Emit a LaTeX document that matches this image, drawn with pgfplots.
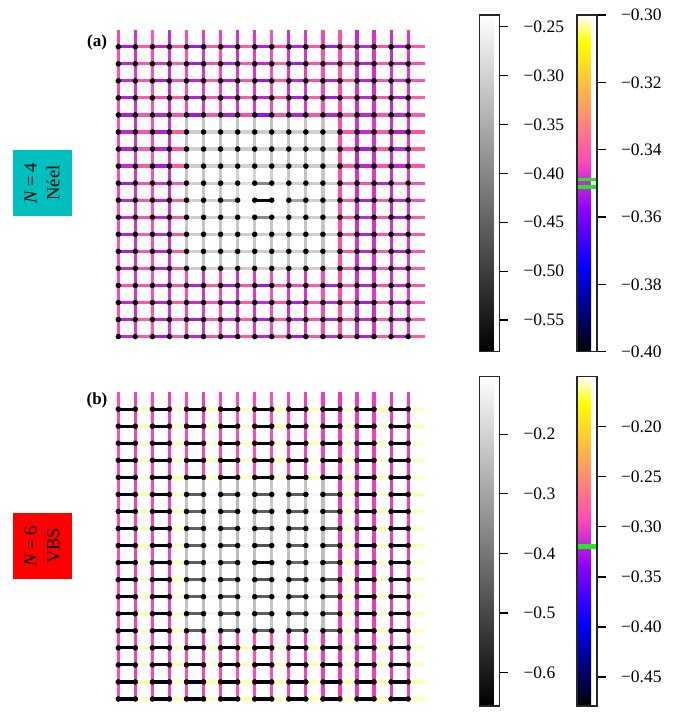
\documentclass[border=0pt]{standalone}
\usepackage{pgfplots}
\pgfplotsset{compat=1.18}
\usepackage{pgfplotstable}
\usepackage{fontspec}
\setmainfont{Liberation Serif}

\definecolor{neelbox}{RGB}{0,191,191}
\definecolor{vbsbox}{RGB}{255,0,0}
\definecolor{meanline}{RGB}{30,235,30}

\pgfplotsset{
  colormap={gnuplottwo}{rgb(0pt)=(0,0,0); rgb(250pt)=(0,0,1); rgb(420pt)=(0.53125,0,1);
    rgb(570pt)=(1,0.3,0.7); rgb(920pt)=(1,1,0); rgb(1000pt)=(1,1,1)},
  colormap={greys}{gray(0pt)=(0); gray(1pt)=(1)},
  lattice/.style={hide axis, scale only axis, enlargelimits=false, clip=false,
    xmin=-1, xmax=19, ymin=-1, ymax=19, width=341pt, height=341pt, anchor=south west},
  hbond/.style={quiver={u=1, v=0, colored=mapped color}, point meta=\thisrow{h},
    line width=3.2pt, mark=none},
  vbond/.style={quiver={u=0, v=1, colored=mapped color}, point meta=\thisrow{v},
    line width=3.2pt, mark=none},
  sites/.style={only marks, mark=*, mark size=2.5pt, mark options={draw=black, fill=black}},
  cbar/.style={at={(parent axis.north west)}, anchor=north west, scale only axis,
    width=20pt, height=#1, axis line style={line width=1.1pt, black!85},
    ytick pos=right, yticklabel pos=right, tick align=outside, major tick length=8.5pt,
    every tick/.style={black, line width=1.3pt},
    yticklabel style={font=\fontsize{17.5}{17.5}\selectfont, xshift=12pt}},
  cbarhost/.style={hide axis, scale only axis, anchor=north west, width=20pt, xmin=0, xmax=1,
    colorbar shift/.style={xshift=0pt}},
}

% bond energies, N=4 (Neel): i j h(i->i+1) v(j->j+1)
\pgfplotstableread{
i j h v
0 17 -0.353 -0.344
1 17 -0.340 -0.348
2 17 -0.351 -0.341
3 17 -0.342 -0.350
4 17 -0.354 -0.343
5 17 -0.341 -0.346
6 17 -0.350 -0.345
7 17 -0.339 -0.348
8 17 -0.352 -0.347
9 17 -0.343 -0.342
10 17 -0.351 -0.349
11 17 -0.341 -0.347
12 17 -0.353 -0.344
13 17 -0.340 -0.342
14 17 -0.350 -0.350
15 17 -0.342 -0.348
16 17 -0.352 -0.349
17 17 -0.341 -0.347
0 16 -0.351 -0.343
1 16 -0.342 -0.349
2 16 -0.348 -0.343
3 16 -0.340 -0.348
4 16 -0.353 -0.342
5 16 -0.343 -0.347
6 16 -0.351 -0.343
7 16 -0.341 -0.349
8 16 -0.350 -0.346
9 16 -0.340 -0.344
10 16 -0.353 -0.348
11 16 -0.342 -0.348
12 16 -0.349 -0.342
13 16 -0.341 -0.343
14 16 -0.352 -0.348
15 16 -0.340 -0.347
16 16 -0.351 -0.350
17 16 -0.343 -0.348
0 15 -0.350 -0.342
1 15 -0.341 -0.347
2 15 -0.353 -0.342
3 15 -0.343 -0.349
4 15 -0.351 -0.344
5 15 -0.340 -0.348
6 15 -0.352 -0.344
7 15 -0.342 -0.347
8 15 -0.354 -0.348
9 15 -0.341 -0.343
10 15 -0.350 -0.347
11 15 -0.343 -0.346
12 15 -0.352 -0.343
13 15 -0.340 -0.341
14 15 -0.351 -0.349
15 15 -0.341 -0.349
16 15 -0.349 -0.348
17 15 -0.342 -0.347
0 14 -0.352 -0.344
1 14 -0.340 -0.348
2 14 -0.344 -0.341
3 14 -0.341 -0.350
4 14 -0.352 -0.342
5 14 -0.342 -0.346
6 14 -0.350 -0.345
7 14 -0.340 -0.349
8 14 -0.351 -0.347
9 14 -0.342 -0.342
10 14 -0.352 -0.349
11 14 -0.340 -0.348
12 14 -0.353 -0.344
13 14 -0.342 -0.343
14 14 -0.350 -0.348
15 14 -0.341 -0.349
16 14 -0.352 -0.349
17 14 -0.340 -0.348
0 13 -0.353 -0.343
1 13 -0.341 -0.348
2 13 -0.351 -0.342
3 13 -0.342 -0.348
4 13 -0.354 -0.343
5 13 -0.341 -0.347
6 13 -0.352 -0.343
7 13 -0.343 -0.348
8 13 -0.355 -0.347
9 13 -0.341 -0.343
10 13 -0.352 -0.348
11 13 -0.342 -0.347
12 13 -0.351 -0.342
13 13 -0.340 -0.342
14 13 -0.351 -0.349
15 13 -0.342 -0.348
16 13 -0.350 -0.350
17 13 -0.341 -0.348
0 12 -0.351 -0.343
1 12 -0.342 -0.349
2 12 -0.352 -0.342
3 12 -0.341 -0.348
13 12 -0.341 -0.342
14 12 -0.350 -0.348
15 12 -0.340 -0.347
16 12 -0.352 -0.349
17 12 -0.342 -0.348
0 11 -0.352 -0.344
1 11 -0.340 -0.348
2 11 -0.350 -0.343
3 11 -0.342 -0.349
13 11 -0.343 -0.343
14 11 -0.353 -0.349
15 11 -0.341 -0.348
16 11 -0.351 -0.348
17 11 -0.340 -0.347
0 10 -0.350 -0.342
1 10 -0.341 -0.347
2 10 -0.353 -0.341
3 10 -0.340 -0.348
13 10 -0.341 -0.342
14 10 -0.351 -0.350
15 10 -0.342 -0.349
16 10 -0.350 -0.349
17 10 -0.341 -0.348
0 9 -0.353 -0.343
1 9 -0.342 -0.348
2 9 -0.349 -0.342
3 9 -0.341 -0.349
13 9 -0.340 -0.343
14 9 -0.343 -0.348
15 9 -0.351 -0.347
16 9 -0.341 -0.349
17 9 -0.342 -0.347
0 8 -0.351 -0.344
1 8 -0.341 -0.348
2 8 -0.352 -0.343
3 8 -0.340 -0.348
13 8 -0.341 -0.342
14 8 -0.352 -0.349
15 8 -0.340 -0.348
16 8 -0.351 -0.349
17 8 -0.343 -0.348
0 7 -0.350 -0.343
1 7 -0.342 -0.347
2 7 -0.351 -0.342
3 7 -0.341 -0.349
13 7 -0.342 -0.341
14 7 -0.350 -0.348
15 7 -0.341 -0.347
16 7 -0.353 -0.350
17 7 -0.340 -0.348
0 6 -0.352 -0.344
1 6 -0.340 -0.348
2 6 -0.350 -0.342
3 6 -0.342 -0.348
13 6 -0.340 -0.343
14 6 -0.352 -0.349
15 6 -0.342 -0.348
16 6 -0.350 -0.348
17 6 -0.341 -0.347
0 5 -0.353 -0.342
1 5 -0.341 -0.349
2 5 -0.351 -0.343
3 5 -0.340 -0.348
13 5 -0.341 -0.342
14 5 -0.351 -0.348
15 5 -0.340 -0.349
16 5 -0.352 -0.349
17 5 -0.342 -0.348
0 4 -0.350 -0.343
1 4 -0.342 -0.348
2 4 -0.352 -0.342
3 4 -0.341 -0.349
13 4 -0.342 -0.342
14 4 -0.353 -0.349
15 4 -0.341 -0.348
16 4 -0.350 -0.348
17 4 -0.340 -0.347
0 3 -0.343 -0.343
1 3 -0.341 -0.348
2 3 -0.350 -0.342
3 3 -0.342 -0.349
4 3 -0.352 -0.342
5 3 -0.340 -0.347
6 3 -0.353 -0.343
7 3 -0.342 -0.348
8 3 -0.354 -0.346
9 3 -0.341 -0.343
10 3 -0.344 -0.348
11 3 -0.340 -0.347
12 3 -0.352 -0.343
13 3 -0.341 -0.342
14 3 -0.351 -0.349
15 3 -0.342 -0.348
16 3 -0.350 -0.349
17 3 -0.341 -0.348
0 2 -0.351 -0.344
1 2 -0.342 -0.348
2 2 -0.352 -0.343
3 2 -0.340 -0.348
4 2 -0.350 -0.343
5 2 -0.343 -0.348
6 2 -0.351 -0.344
7 2 -0.341 -0.349
8 2 -0.350 -0.347
9 2 -0.342 -0.342
10 2 -0.352 -0.347
11 2 -0.341 -0.348
12 2 -0.350 -0.342
13 2 -0.340 -0.343
14 2 -0.353 -0.348
15 2 -0.341 -0.347
16 2 -0.351 -0.349
17 2 -0.342 -0.347
0 1 -0.352 -0.343
1 1 -0.340 -0.349
2 1 -0.351 -0.341
3 1 -0.342 -0.349
4 1 -0.353 -0.344
5 1 -0.341 -0.346
6 1 -0.349 -0.343
7 1 -0.340 -0.348
8 1 -0.352 -0.348
9 1 -0.343 -0.343
10 1 -0.350 -0.349
11 1 -0.342 -0.346
12 1 -0.352 -0.344
13 1 -0.341 -0.342
14 1 -0.350 -0.349
15 1 -0.340 -0.349
16 1 -0.352 -0.348
17 1 -0.341 -0.348
0 0 -0.350 -0.344
1 0 -0.341 -0.347
2 0 -0.353 -0.342
3 0 -0.341 -0.348
4 0 -0.351 -0.343
5 0 -0.342 -0.348
6 0 -0.352 -0.344
7 0 -0.341 -0.347
8 0 -0.351 -0.347
9 0 -0.340 -0.343
10 0 -0.353 -0.348
11 0 -0.341 -0.347
12 0 -0.350 -0.343
13 0 -0.342 -0.342
14 0 -0.352 -0.349
15 0 -0.341 -0.348
16 0 -0.351 -0.349
17 0 -0.340 -0.347
}\OuterA

\pgfplotstableread{
i j h v
4 12 -0.306 -0.318
5 12 -0.304 -0.320
6 12 -0.308 -0.316
7 12 -0.303 -0.319
8 12 -0.307 -0.317
9 12 -0.305 -0.321
10 12 -0.309 -0.318
11 12 -0.304 -0.316
12 12 -0.306 -0.320
4 11 -0.303 -0.319
5 11 -0.307 -0.317
6 11 -0.302 -0.321
7 11 -0.306 -0.318
8 11 -0.304 -0.316
9 11 -0.308 -0.320
10 11 -0.303 -0.317
11 11 -0.306 -0.319
12 11 -0.305 -0.318
4 10 -0.307 -0.317
5 10 -0.303 -0.320
6 10 -0.306 -0.318
7 10 -0.301 -0.316
8 10 -0.310 -0.315
9 10 -0.302 -0.317
10 10 -0.305 -0.319
11 10 -0.308 -0.318
12 10 -0.304 -0.320
4 9 -0.305 -0.318
5 9 -0.306 -0.319
6 9 -0.300 -0.314
7 9 -0.285 -0.300
8 9 -0.400 -0.300
9 9 -0.285 -0.302
10 9 -0.301 -0.315
11 9 -0.307 -0.318
12 9 -0.304 -0.317
4 8 -0.304 -0.319
5 8 -0.302 -0.316
6 8 -0.360 -0.313
7 8 -0.250 -0.295
8 8 -0.570 -0.255
9 8 -0.250 -0.255
10 8 -0.360 -0.300
11 8 -0.303 -0.314
12 8 -0.306 -0.318
4 7 -0.306 -0.318
5 7 -0.305 -0.317
6 7 -0.301 -0.313
7 7 -0.285 -0.295
8 7 -0.400 -0.255
9 7 -0.285 -0.255
10 7 -0.300 -0.300
11 7 -0.306 -0.316
12 7 -0.303 -0.319
4 6 -0.305 -0.317
5 6 -0.308 -0.320
6 6 -0.303 -0.316
7 6 -0.306 -0.314
8 6 -0.309 -0.312
9 6 -0.302 -0.315
10 6 -0.306 -0.318
11 6 -0.304 -0.319
12 6 -0.307 -0.317
4 5 -0.304 -0.319
5 5 -0.306 -0.317
6 5 -0.308 -0.321
7 5 -0.303 -0.318
8 5 -0.305 -0.316
9 5 -0.307 -0.320
10 5 -0.302 -0.317
11 5 -0.306 -0.318
12 5 -0.304 -0.321
4 4 -0.307 -0.318
5 4 -0.303 -0.320
6 4 -0.305 -0.317
7 4 -0.308 -0.319
8 4 -0.304 -0.318
9 4 -0.306 -0.316
10 4 -0.303 -0.320
11 4 -0.307 -0.317
12 4 -0.305 -0.319
}\InnerA

% bond energies, N=6 (VBS)
\pgfplotstableread{
i j h v
0 17 -0.470 -0.291
1 17 -0.158 -0.299
2 17 -0.468 -0.294
3 17 -0.156 -0.300
4 17 -0.472 -0.292
5 17 -0.160 -0.298
6 17 -0.469 -0.295
7 17 -0.157 -0.292
8 17 -0.471 -0.294
9 17 -0.159 -0.291
10 17 -0.467 -0.296
11 17 -0.158 -0.299
12 17 -0.473 -0.300
13 17 -0.156 -0.302
14 17 -0.470 -0.301
15 17 -0.160 -0.300
16 17 -0.468 -0.302
17 17 -0.157 -0.301
0 16 -0.471 -0.293
1 16 -0.159 -0.298
2 16 -0.469 -0.293
3 16 -0.157 -0.299
4 16 -0.470 -0.294
5 16 -0.158 -0.297
6 16 -0.472 -0.293
7 16 -0.156 -0.290
8 16 -0.468 -0.292
9 16 -0.160 -0.289
10 16 -0.471 -0.294
11 16 -0.157 -0.298
12 16 -0.469 -0.299
13 16 -0.158 -0.301
14 16 -0.473 -0.300
15 16 -0.156 -0.301
16 16 -0.470 -0.300
17 16 -0.159 -0.299
0 15 -0.469 -0.292
1 15 -0.157 -0.297
2 15 -0.471 -0.295
3 15 -0.159 -0.298
4 15 -0.468 -0.293
5 15 -0.156 -0.296
6 15 -0.470 -0.294
7 15 -0.158 -0.291
8 15 -0.472 -0.293
9 15 -0.157 -0.290
10 15 -0.469 -0.295
11 15 -0.160 -0.297
12 15 -0.471 -0.298
13 15 -0.157 -0.300
14 15 -0.468 -0.301
15 15 -0.158 -0.299
16 15 -0.472 -0.301
17 15 -0.156 -0.300
0 14 -0.472 -0.291
1 14 -0.158 -0.298
2 14 -0.470 -0.294
3 14 -0.156 -0.299
4 14 -0.469 -0.291
5 14 -0.159 -0.296
6 14 -0.471 -0.293
7 14 -0.157 -0.289
8 14 -0.470 -0.291
9 14 -0.158 -0.289
10 14 -0.468 -0.294
11 14 -0.156 -0.297
12 14 -0.471 -0.297
13 14 -0.159 -0.301
14 14 -0.470 -0.300
15 14 -0.157 -0.300
16 14 -0.469 -0.301
17 14 -0.158 -0.300
0 13 -0.470 -0.293
1 13 -0.156 -0.298
2 13 -0.468 -0.293
3 13 -0.160 -0.298
4 13 -0.471 -0.291
5 13 -0.157 -0.294
6 13 -0.469 -0.292
7 13 -0.158 -0.288
8 13 -0.472 -0.290
9 13 -0.156 -0.288
10 13 -0.470 -0.292
11 13 -0.159 -0.296
12 13 -0.468 -0.297
13 13 -0.157 -0.300
14 13 -0.471 -0.301
15 13 -0.158 -0.301
16 13 -0.470 -0.300
17 13 -0.156 -0.301
0 12 -0.469 -0.292
1 12 -0.158 -0.298
2 12 -0.471 -0.294
3 12 -0.157 -0.299
13 12 -0.158 -0.302
14 12 -0.470 -0.301
15 12 -0.156 -0.300
16 12 -0.472 -0.302
17 12 -0.159 -0.300
0 11 -0.471 -0.291
1 11 -0.157 -0.299
2 11 -0.469 -0.293
3 11 -0.159 -0.298
13 11 -0.156 -0.303
14 11 -0.468 -0.300
15 11 -0.158 -0.301
16 11 -0.470 -0.301
17 11 -0.157 -0.300
0 10 -0.470 -0.293
1 10 -0.159 -0.297
2 10 -0.472 -0.295
3 10 -0.156 -0.299
13 10 -0.157 -0.302
14 10 -0.471 -0.301
15 10 -0.159 -0.300
16 10 -0.469 -0.302
17 10 -0.156 -0.301
0 9 -0.468 -0.292
1 9 -0.158 -0.298
2 9 -0.470 -0.294
3 9 -0.157 -0.300
13 9 -0.158 -0.301
14 9 -0.469 -0.300
15 9 -0.157 -0.302
16 9 -0.471 -0.300
17 9 -0.158 -0.301
0 8 -0.471 -0.291
1 8 -0.156 -0.299
2 8 -0.469 -0.293
3 8 -0.158 -0.298
13 8 -0.159 -0.303
14 8 -0.470 -0.301
15 8 -0.156 -0.300
16 8 -0.468 -0.301
17 8 -0.157 -0.300
0 7 -0.470 -0.293
1 7 -0.157 -0.298
2 7 -0.471 -0.294
3 7 -0.159 -0.299
13 7 -0.156 -0.302
14 7 -0.472 -0.300
15 7 -0.158 -0.301
16 7 -0.470 -0.302
17 7 -0.159 -0.301
0 6 -0.469 -0.292
1 6 -0.158 -0.297
2 6 -0.470 -0.295
3 6 -0.156 -0.298
13 6 -0.157 -0.301
14 6 -0.469 -0.301
15 6 -0.159 -0.300
16 6 -0.471 -0.301
17 6 -0.156 -0.300
0 5 -0.472 -0.291
1 5 -0.159 -0.299
2 5 -0.468 -0.293
3 5 -0.157 -0.299
13 5 -0.158 -0.302
14 5 -0.470 -0.300
15 5 -0.157 -0.302
16 5 -0.469 -0.300
17 5 -0.158 -0.301
0 4 -0.470 -0.292
1 4 -0.157 -0.298
2 4 -0.471 -0.294
3 4 -0.158 -0.298
13 4 -0.156 -0.301
14 4 -0.471 -0.301
15 4 -0.158 -0.300
16 4 -0.470 -0.302
17 4 -0.157 -0.301
0 3 -0.469 -0.291
1 3 -0.158 -0.297
2 3 -0.470 -0.294
3 3 -0.156 -0.298
4 3 -0.471 -0.288
5 3 -0.157 -0.296
6 3 -0.469 -0.290
7 3 -0.159 -0.288
8 3 -0.472 -0.288
9 3 -0.156 -0.287
10 3 -0.470 -0.293
11 3 -0.158 -0.298
12 3 -0.468 -0.299
13 3 -0.157 -0.301
14 3 -0.471 -0.300
15 3 -0.159 -0.301
16 3 -0.470 -0.301
17 3 -0.156 -0.300
0 2 -0.471 -0.293
1 2 -0.157 -0.298
2 2 -0.469 -0.292
3 2 -0.159 -0.299
4 2 -0.470 -0.289
5 2 -0.156 -0.297
6 2 -0.472 -0.291
7 2 -0.158 -0.289
8 2 -0.469 -0.290
9 2 -0.157 -0.289
10 2 -0.471 -0.295
11 2 -0.159 -0.297
12 2 -0.470 -0.298
13 2 -0.156 -0.302
14 2 -0.468 -0.301
15 2 -0.158 -0.300
16 2 -0.471 -0.302
17 2 -0.157 -0.300
0 1 -0.470 -0.292
1 1 -0.158 -0.299
2 1 -0.471 -0.294
3 1 -0.156 -0.298
4 1 -0.469 -0.291
5 1 -0.159 -0.296
6 1 -0.470 -0.293
7 1 -0.157 -0.291
8 1 -0.472 -0.292
9 1 -0.158 -0.290
10 1 -0.468 -0.295
11 1 -0.156 -0.298
12 1 -0.471 -0.299
13 1 -0.159 -0.301
14 1 -0.470 -0.300
15 1 -0.157 -0.301
16 1 -0.469 -0.301
17 1 -0.158 -0.300
0 0 -0.471 -0.291
1 0 -0.157 -0.298
2 0 -0.470 -0.293
3 0 -0.158 -0.299
4 0 -0.472 -0.292
5 0 -0.156 -0.297
6 0 -0.469 -0.294
7 0 -0.159 -0.291
8 0 -0.471 -0.293
9 0 -0.157 -0.290
10 0 -0.470 -0.294
11 0 -0.158 -0.298
12 0 -0.469 -0.299
13 0 -0.156 -0.301
14 0 -0.471 -0.301
15 0 -0.158 -0.300
16 0 -0.470 -0.301
17 0 -0.157 -0.300
}\OuterB

\pgfplotstableread{
i j h v
4 12 -0.452 -0.236
5 12 -0.128 -0.244
6 12 -0.448 -0.235
7 12 -0.130 -0.251
8 12 -0.455 -0.242
9 12 -0.127 -0.229
10 12 -0.449 -0.245
11 12 -0.129 -0.237
12 12 -0.451 -0.242
4 11 -0.449 -0.234
5 11 -0.126 -0.242
6 11 -0.453 -0.237
7 11 -0.128 -0.253
8 11 -0.450 -0.244
9 11 -0.130 -0.227
10 11 -0.454 -0.243
11 11 -0.127 -0.235
12 11 -0.447 -0.244
4 10 -0.451 -0.235
5 10 -0.129 -0.243
6 10 -0.447 -0.236
7 10 -0.127 -0.252
8 10 -0.458 -0.242
9 10 -0.128 -0.229
10 10 -0.450 -0.244
11 10 -0.130 -0.236
12 10 -0.452 -0.243
4 9 -0.448 -0.236
5 9 -0.127 -0.242
6 9 -0.452 -0.235
7 9 -0.129 -0.250
8 9 -0.478 -0.243
9 9 -0.126 -0.228
10 9 -0.449 -0.245
11 9 -0.128 -0.237
12 9 -0.450 -0.242
4 8 -0.453 -0.235
5 8 -0.130 -0.244
6 8 -0.425 -0.237
7 8 -0.128 -0.252
8 8 -0.640 -0.241
9 8 -0.127 -0.230
10 8 -0.427 -0.243
11 8 -0.129 -0.236
12 8 -0.448 -0.244
4 7 -0.450 -0.234
5 7 -0.128 -0.243
6 7 -0.451 -0.236
7 7 -0.126 -0.253
8 7 -0.480 -0.244
9 7 -0.129 -0.227
10 7 -0.452 -0.244
11 7 -0.127 -0.235
12 7 -0.451 -0.243
4 6 -0.447 -0.236
5 6 -0.129 -0.242
6 6 -0.449 -0.235
7 6 -0.130 -0.251
8 6 -0.456 -0.243
9 6 -0.128 -0.229
10 6 -0.448 -0.245
11 6 -0.126 -0.237
12 6 -0.453 -0.242
4 5 -0.452 -0.235
5 5 -0.127 -0.244
6 5 -0.450 -0.237
7 5 -0.128 -0.252
8 5 -0.453 -0.242
9 5 -0.130 -0.228
10 5 -0.451 -0.243
11 5 -0.128 -0.236
12 5 -0.449 -0.244
4 4 -0.449 -0.236
5 4 -0.128 -0.243
6 4 -0.452 -0.236
7 4 -0.127 -0.251
8 4 -0.451 -0.244
9 4 -0.129 -0.229
10 4 -0.447 -0.244
11 4 -0.130 -0.235
12 4 -0.452 -0.243
}\InnerB

\begin{document}
\begin{tikzpicture}
\useasboundingbox (0,0) rectangle (680pt,715pt);

% ---------- (a) N=4, Neel: outer bonds, inner bonds, sites ----------
\begin{axis}[lattice, at={(101.25pt,361.35pt)}, colormap name=gnuplottwo,
  point meta min=-0.40, point meta max=-0.30]
  \addplot[hbond] table[x=i, y=j] {\OuterA};
  \addplot[vbond] table[x=i, y=j] {\OuterA};
\end{axis}
\begin{axis}[lattice, at={(101.25pt,361.35pt)}, colormap name=greys,
  point meta min=-0.5823, point meta max=-0.2381]
  \addplot[hbond] table[x=i, y=j] {\InnerA};
  \addplot[vbond] table[x=i, y=j] {\InnerA};
  \addplot[sites] table[x=i, y=j] {\OuterA};
  \addplot[sites] table[x=i, y=j] {\InnerA};
\end{axis}

% ---------- (b) N=6, VBS ----------
\begin{axis}[lattice, at={(101.25pt,-1.05pt)}, colormap name=gnuplottwo,
  point meta min=-0.479, point meta max=-0.150]
  \addplot[hbond] table[x=i, y=j] {\OuterB};
  \addplot[vbond] table[x=i, y=j] {\OuterB};
\end{axis}
\begin{axis}[lattice, at={(101.25pt,-1.05pt)}, colormap name=greys,
  point meta min=-0.656, point meta max=-0.1035]
  \addplot[hbond] table[x=i, y=j] {\InnerB};
  \addplot[vbond] table[x=i, y=j] {\InnerB};
  \addplot[sites] table[x=i, y=j] {\OuterB};
  \addplot[sites] table[x=i, y=j] {\InnerB};
\end{axis}

% ---------- colour bars (a) ----------
\begin{axis}[cbarhost, at={(479.5pt,700pt)}, height=336.7pt, ymin=-0.5823, ymax=-0.2381,
  colormap name=greys, point meta min=-0.5823, point meta max=-0.2381, colorbar,
  colorbar style={cbar=336.7pt, ytick={-0.55,-0.50,-0.45,-0.40,-0.35,-0.30,-0.25},
    yticklabels={−0.55,−0.50,−0.45,−0.40,−0.35,−0.30,−0.25}}]
  \addplot[draw=none] coordinates {(0,-0.4)};
\end{axis}
\begin{axis}[cbarhost, at={(577pt,700pt)}, height=336.7pt, ymin=-0.40, ymax=-0.30,
  colormap name=gnuplottwo, point meta min=-0.40, point meta max=-0.30, colorbar,
  colorbar style={cbar=336.7pt, ytick={-0.40,-0.38,-0.36,-0.34,-0.32,-0.30},
    yticklabels={−0.40,−0.38,−0.36,−0.34,−0.32,−0.30}}]
  \addplot[draw=none] coordinates {(0,-0.35)};
\end{axis}
\begin{axis}[cbarhost, at={(577pt,700pt)}, height=336.7pt, ymin=-0.40, ymax=-0.30, clip=false]
  \addplot[meanline, line width=3.3pt] coordinates {(0.03,-0.3488) (0.97,-0.3488)};
  \addplot[meanline, line width=3.3pt] coordinates {(0.03,-0.3511) (0.97,-0.3511)};
\end{axis}

% ---------- colour bars (b) ----------
\begin{axis}[cbarhost, at={(479.5pt,338.3pt)}, height=329.3pt, ymin=-0.656, ymax=-0.1035,
  colormap name=greys, point meta min=-0.656, point meta max=-0.1035, colorbar,
  colorbar style={cbar=329.3pt, ytick={-0.6,-0.5,-0.4,-0.3,-0.2},
    yticklabels={−0.6,−0.5,−0.4,−0.3,−0.2}}]
  \addplot[draw=none] coordinates {(0,-0.4)};
\end{axis}
\begin{axis}[cbarhost, at={(577pt,338.3pt)}, height=329.3pt, ymin=-0.479, ymax=-0.150,
  colormap name=gnuplottwo, point meta min=-0.479, point meta max=-0.150, colorbar,
  colorbar style={cbar=329.3pt, ytick={-0.45,-0.40,-0.35,-0.30,-0.25,-0.20},
    yticklabels={−0.45,−0.40,−0.35,−0.30,−0.25,−0.20}}]
  \addplot[draw=none] coordinates {(0,-0.3)};
\end{axis}
\begin{axis}[cbarhost, at={(577pt,338.3pt)}, height=329.3pt, ymin=-0.479, ymax=-0.150, clip=false]
  \addplot[meanline, line width=3.3pt] coordinates {(0.03,-0.3187) (0.97,-0.3187)};
  \addplot[meanline, line width=3.3pt] coordinates {(0.03,-0.3207) (0.97,-0.3207)};
\end{axis}

% ---------- panel labels and phase tags ----------
\node[font=\bfseries\fontsize{17}{17}\selectfont] at (97pt,673pt) {(a)};
\node[font=\bfseries\fontsize{17}{17}\selectfont] at (97pt,315pt) {(b)};
\node[fill=neelbox, rotate=90, minimum width=66pt, minimum height=59pt, inner sep=0pt,
  align=center, font=\fontsize{18.5}{22.6}\selectfont] at (42pt,532pt)
  {\textit{N}\hspace{0.2em}=\hspace{0.2em}4\\Néel};
\node[fill=vbsbox, rotate=90, minimum width=66pt, minimum height=59pt, inner sep=0pt,
  align=center, font=\fontsize{18.5}{22.6}\selectfont] at (42pt,169pt)
  {\textit{N}\hspace{0.2em}=\hspace{0.2em}6\\VBS};
\end{tikzpicture}
\end{document}
